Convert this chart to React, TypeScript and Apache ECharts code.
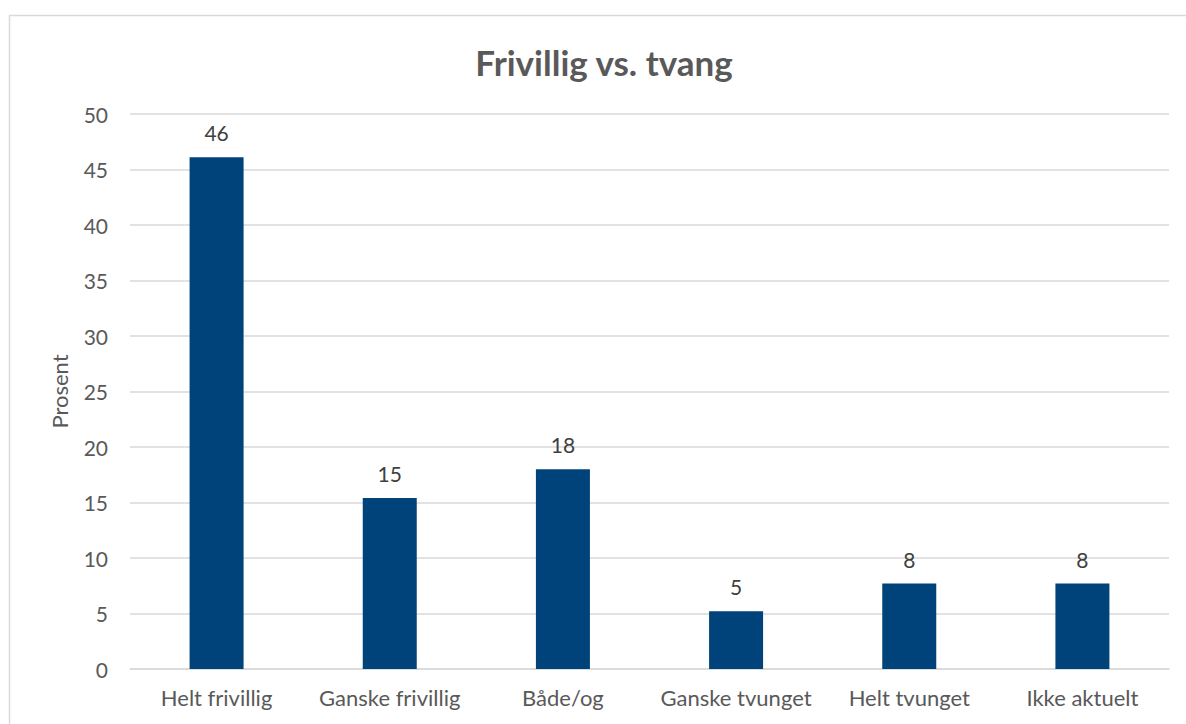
import React, { useEffect, useRef } from "react";
import * as echarts from "echarts";

const categories = ["Helt frivillig", "Ganske frivillig", "Både/og", "Ganske tvunget", "Helt tvunget", "Ikke aktuelt"];
const values = [46.1, 15.4, 18.0, 5.2, 7.7, 7.7];
const barLabels = ["46", "15", "18", "5", "8", "8"];
const yTicks = { min: 0, max: 50, interval: 5 };

export default function App() {
  const ref = useRef<HTMLDivElement>(null);
  useEffect(() => {
    document.body.style.margin = "0";
    const chart = echarts.init(ref.current!, null, { renderer: "svg" });
    const font = "Lato, 'Open Sans', sans-serif";
    chart.setOption({
      animation: false,
      backgroundColor: "#ffffff",
      textStyle: { fontFamily: font },
      graphic: [
        {
          type: "rect",
          shape: { x: 9.5, y: 15.5, width: 1300, height: 900 },
          style: { fill: "none", stroke: "#d9d9d9", lineWidth: 1.5 },
          silent: true,
        },
        {
          type: "text",
          x: 604,
          y: 62,
          style: {
            text: "Frivillig vs. tvang",
            font: `bold 35px ${font}`,
            fill: "#595959",
            textAlign: "center",
            textVerticalAlign: "middle",
          },
        },
      ],
      grid: { left: 130, right: 17, top: 114, bottom: 55 },
      xAxis: {
        type: "category",
        data: categories,
        axisLine: { lineStyle: { color: "#d9d9d9", width: 1.5 } },
        axisTick: { show: false },
        axisLabel: { color: "#595959", fontSize: 22, margin: 17, interval: 0, fontFamily: font },
      },
      yAxis: {
        type: "value",
        min: yTicks.min,
        max: yTicks.max,
        interval: yTicks.interval,
        name: "Prosent",
        nameLocation: "middle",
        nameGap: 60,
        nameTextStyle: { color: "#595959", fontSize: 22, fontFamily: font },
        axisLine: { show: false },
        axisTick: { show: false },
        axisLabel: { color: "#595959", fontSize: 21, margin: 22, fontFamily: font },
        splitLine: { lineStyle: { color: "#d9d9d9", width: 1.5 } },
      },
      series: [
        {
          type: "bar",
          data: values,
          barWidth: 54,
          itemStyle: { color: "#00437a" },
          label: {
            show: true,
            position: "top",
            distance: 14,
            color: "#404040",
            fontSize: 21,
            fontFamily: font,
            formatter: (p: any) => barLabels[p.dataIndex],
          },
        },
      ],
    });
    return () => chart.dispose();
  }, []);
  return <div ref={ref} style={{ width: 1186, height: 724 }} />;
}
